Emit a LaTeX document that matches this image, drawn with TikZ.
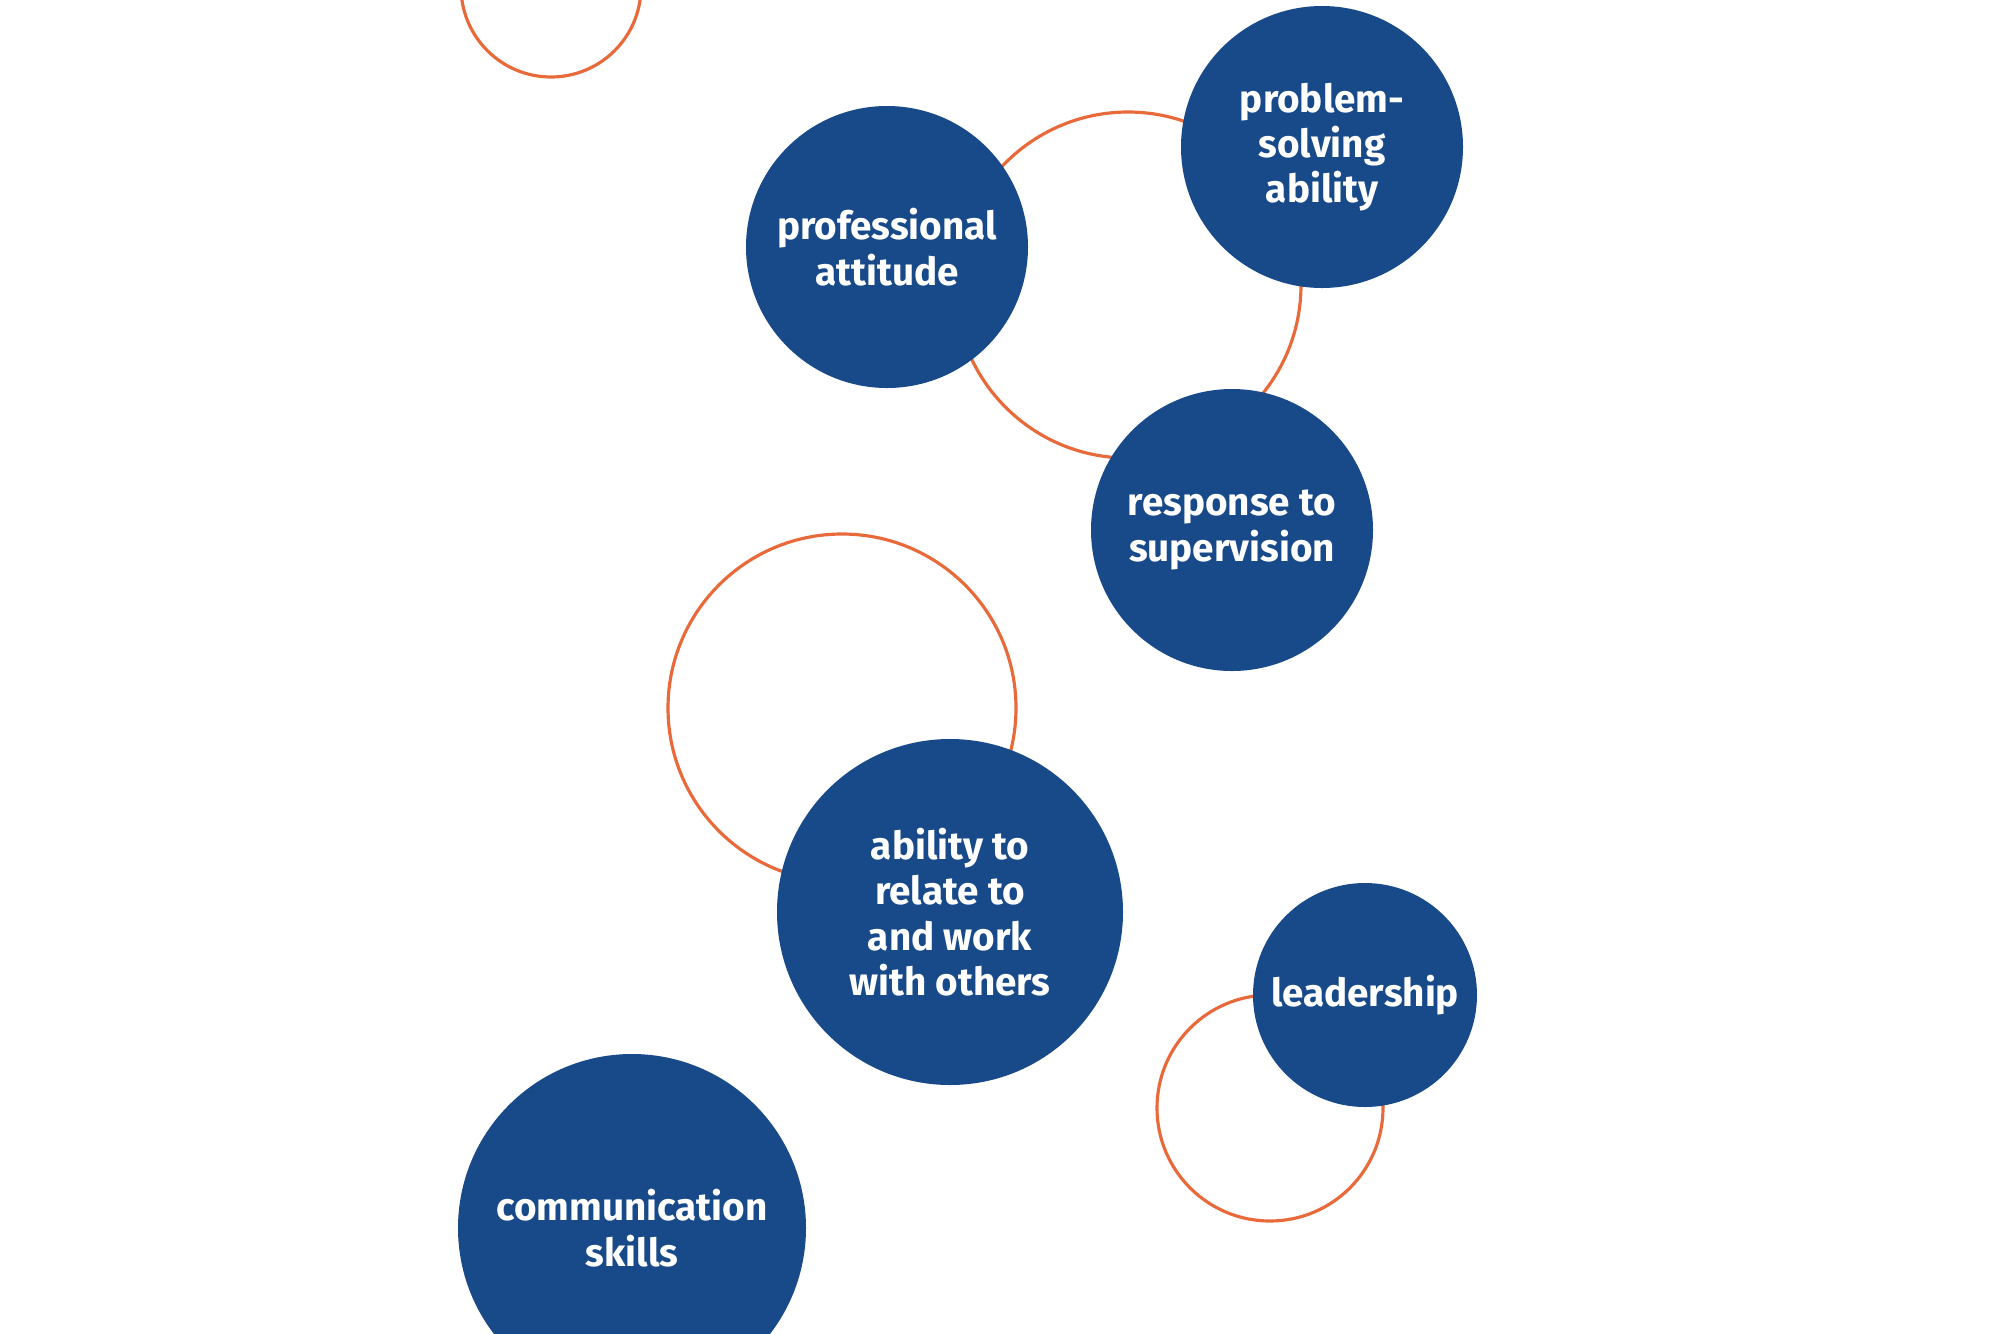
\documentclass[tikz,border=0pt]{standalone}
\usepackage{fontspec}
\setmainfont{Fira Sans}
\usepackage{tikz}
\usetikzlibrary{positioning}
\definecolor{skillblue}{RGB}{24,74,138}
\definecolor{ringorange}{RGB}{232,106,58}

\begin{document}
\begin{tikzpicture}[
  bubble/.style={circle, fill=skillblue, text=white, inner sep=0pt, align=center,
    font=\fontsize{11}{12.9}\selectfont\bfseries},
  ring/.style={circle, draw=ringorange, line width=0.9pt, inner sep=0pt}]
  \useasboundingbox (0,0) rectangle (20,-13.33);
  \clip (0,0) rectangle (20,-13.33);
  % orange rings behind
  \node[ring, minimum size=1.80cm] (ringA) at (5.51,0.13) {};
  \node[ring, minimum size=3.46cm] (ringB) at (11.28,-2.85) {};
  \node[ring, minimum size=3.48cm] (ringC) at (8.42,-7.08) {};
  \node[ring, minimum size=2.26cm] (ringD) at (12.70,-11.08) {};
  % skill bubbles
  \node[bubble, minimum size=2.82cm] (prof) at (8.87,-2.47) {professional\\attitude};
  \node[bubble, minimum size=2.82cm] (prob) at (13.22,-1.47) {problem-\\solving\\ability};
  \node[bubble, minimum size=2.82cm] (resp) at (12.32,-5.30) {response to\\supervision};
  \node[bubble, minimum size=3.46cm] (relate) at (9.50,-9.12) {ability to\\relate to\\and work\\with others};
  \node[bubble, minimum size=2.24cm] (lead) at (13.65,-9.95) {leadership};
  \node[bubble, minimum size=3.48cm] (comm) at (6.32,-12.28) {communication\\skills};
\end{tikzpicture}
\end{document}
